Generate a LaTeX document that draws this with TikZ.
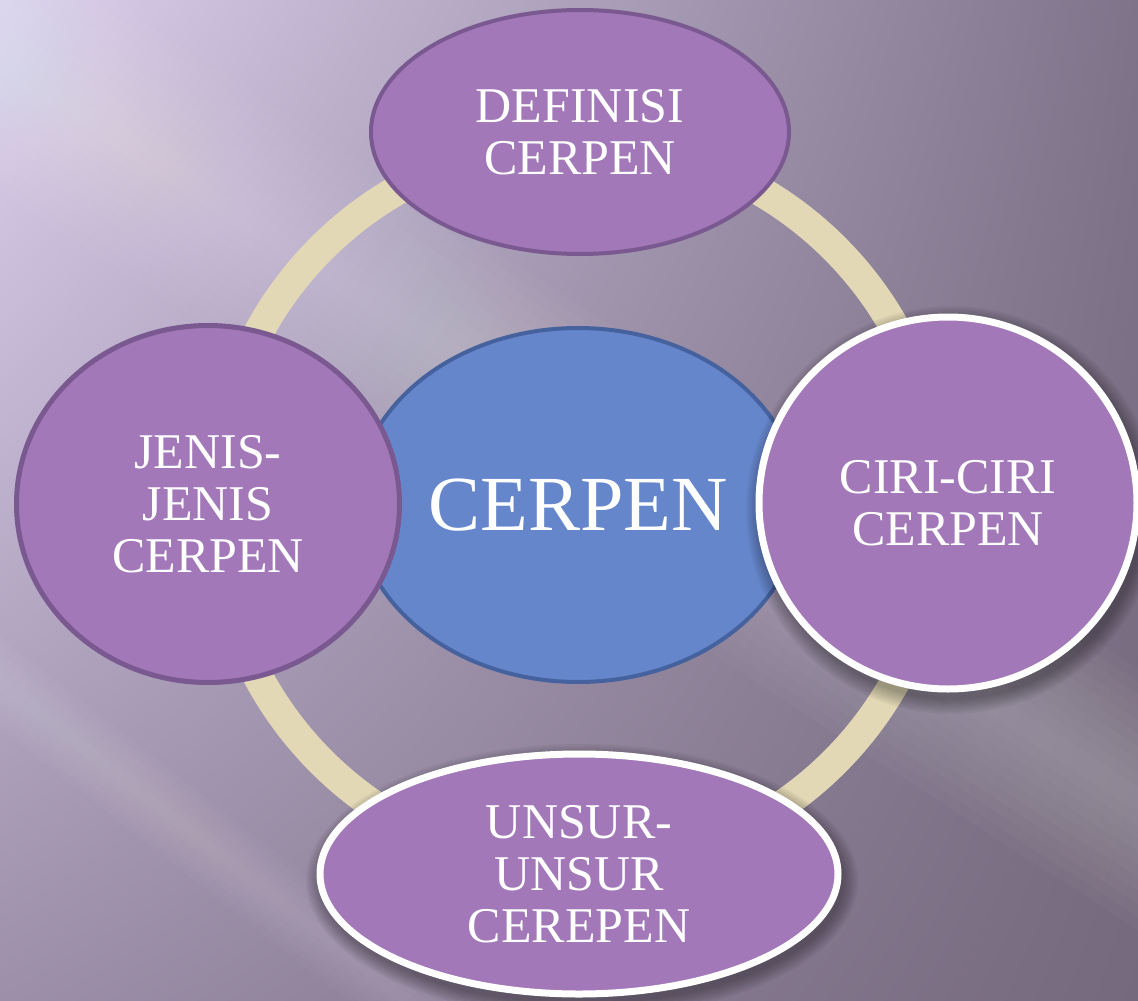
\documentclass[tikz,border=0pt]{standalone}
\usepackage{fontspec}
\setmainfont{Liberation Serif}
\usetikzlibrary{shapes.geometric,shadings}
\definecolor{bgUL}{HTML}{DCD0EE}
\definecolor{bgUR}{HTML}{7E7389}
\definecolor{bgLL}{HTML}{9D8FA9}
\definecolor{bgLR}{HTML}{75697D}
\definecolor{ringcol}{HTML}{E2D8B6}
\definecolor{purplefill}{HTML}{A278B9}
\definecolor{purpleedge}{HTML}{7A5890}
\definecolor{bluefill}{HTML}{6686CC}
\definecolor{blueedge}{HTML}{46629E}
\tikzset{
  bubble/.style={ellipse, fill=purplefill, text=white, align=center, inner sep=0pt,
    font=\fontsize{50}{52}\selectfont},
  darkrim/.style={draw=purpleedge, line width=4pt},
  whiterim/.style={draw=white, line width=7pt},
  hub/.style={ellipse, fill=bluefill, draw=blueedge, line width=4pt, text=white,
    inner sep=0pt, font=\fontsize{78}{80}\selectfont},
  ringstyle/.style={circle, draw=ringcol, line width=30pt, inner sep=0pt},
  shadowlayer/.style={fill=black, opacity=0.045},
  streak/.style={fill=white, opacity=0.022}
}
\begin{document}
\begin{tikzpicture}[x=1pt,y=-1pt]
\useasboundingbox (0,0) rectangle (1138,1001);
% background
\shade[upper left=bgUL, upper right=bgUR, lower left=bgLL, lower right=bgLR]
  (0,0) rectangle (1138,1001);
\begin{scope}
  \clip (0,0) rectangle (1138,1001);
  \foreach \k in {1,...,10}
    \fill[streak, rotate around={-33:(300,255)}]
      (-800,255-\k*11) rectangle (1600,255+\k*11);
  \foreach \k in {1,...,6}
    \fill[streak, rotate around={-38:(150,800)}]
      (-800,800-\k*6) rectangle (1600,800+\k*6);
\end{scope}
% ring
\node[ringstyle, minimum size=726pt] (ring) at (578,505) {};
% centre
\node[hub, minimum width=444pt, minimum height=354pt] (cerpen) at (578,505) {CERPEN};
% top
\node[bubble, darkrim, minimum width=418pt, minimum height=244pt] (definisi) at (580,132)
  {DEFINISI\\CERPEN};
% left
\node[bubble, line width=5pt, draw=purpleedge, minimum width=383pt, minimum height=357pt] (jenis) at (208,504)
  {JENIS-\\JENIS\\CERPEN};
% right (with soft shadow)
\foreach \i in {0,...,7}
  \fill[shadowlayer] (952,510) ellipse [x radius={192+2*\i}, y radius={190+2*\i}];
\node[bubble, whiterim, minimum width=378pt, minimum height=372pt] (ciri) at (948,503)
  {CIRI-CIRI\\CERPEN};
% bottom (with soft shadow)
\foreach \i in {0,...,7}
  \fill[shadowlayer] (582,881) ellipse [x radius={262+2*\i}, y radius={123+2*\i}];
\node[bubble, whiterim, minimum width=518pt, minimum height=240pt] (unsur) at (579,874)
  {UNSUR-\\UNSUR\\CEREPEN};
\end{tikzpicture}
\end{document}
